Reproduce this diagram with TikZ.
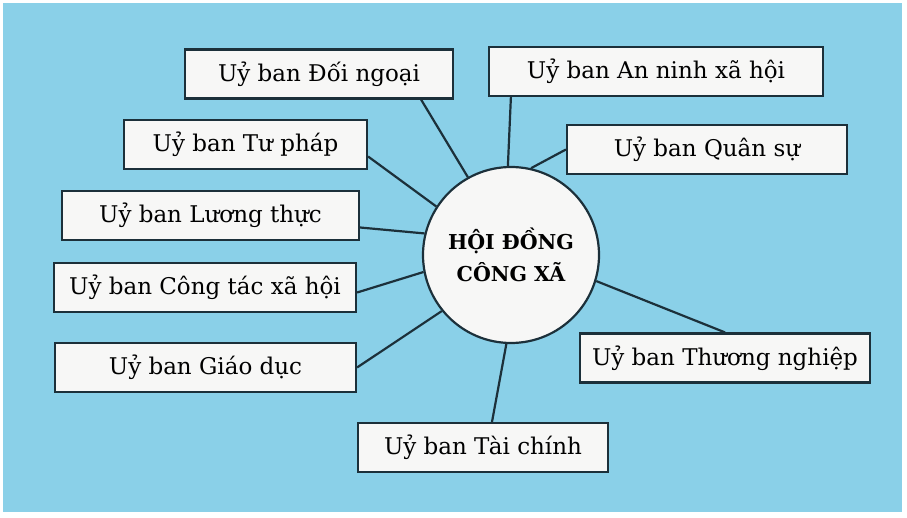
\documentclass[tikz,border=0pt]{standalone}
\usepackage{fontspec}
\setmainfont{DejaVu Serif}
\usepackage{tikz}
\definecolor{sky}{RGB}{138, 208, 232}
\definecolor{ink}{RGB}{28, 48, 58}
\definecolor{paper}{RGB}{247, 247, 246}

\begin{document}
\begin{tikzpicture}[x=1pt, y=-1pt, line width=2.2pt,
    ban/.style={draw=ink, fill=paper, minimum height=49pt, inner sep=0pt,
      font=\fontsize{23}{27}\selectfont},
    link/.style={draw=ink}]

  \useasboundingbox (0, 0) rectangle (907, 518);
  \fill[sky] (3, 3) rectangle (902, 512);

  % the council in the middle
  \node[circle, draw=ink, fill=paper, minimum size=176pt, inner sep=0pt,
    align=center, font=\bfseries\fontsize{20.5}{32}\selectfont]
    (hoidong) at (511, 255) {HỘI ĐỒNG\\CÔNG XÃ};

  \node[ban, minimum width=268pt] (doingoai) at (319, 74) {Uỷ ban Đối ngoại};
  \node[ban, minimum width=243pt] (tuphap) at (245.5, 144.5) {Uỷ ban Tư pháp};
  \node[ban, minimum width=297pt] (luongthuc) at (210.5, 215.5) {Uỷ ban Lương thực};
  \node[ban, minimum width=302pt] (congtac) at (205, 287.5) {Uỷ ban Công tác xã hội};
  \node[ban, minimum width=301pt] (giaoduc) at (205.5, 367.5) {Uỷ ban Giáo dục};
  \node[ban, minimum width=250pt] (taichinh) at (483, 447.5) {Uỷ ban Tài chính};
  \node[ban, minimum width=290pt] (thuongnghiep) at (725, 358) {Uỷ ban Thương nghiệp};
  \node[ban, minimum width=280pt] (quansu) at (707, 149.5) {Uỷ ban Quân sự};
  \node[ban, minimum width=334pt] (anninh) at (656, 71.5) {Uỷ ban An ninh xã hội};

  \draw[link] ([xshift=-33pt]doingoai.south east) -- (hoidong.119);
  \draw[link] ([xshift=23pt]anninh.south west) -- (hoidong.92);
  \draw[link] (quansu.west) -- (hoidong.77);
  \draw[link] ([yshift=-12pt]tuphap.east) -- (hoidong.147);
  \draw[link] ([yshift=-12pt]luongthuc.east) -- (hoidong.166);
  \draw[link] ([yshift=-5pt]congtac.east) -- (hoidong.191);
  \draw[link] (giaoduc.east) -- (hoidong.219);
  \draw[link] ([xshift=9pt]taichinh.north) -- (hoidong.267);
  \draw[link] (thuongnghiep.north) -- (hoidong.343);

\end{tikzpicture}
\end{document}
